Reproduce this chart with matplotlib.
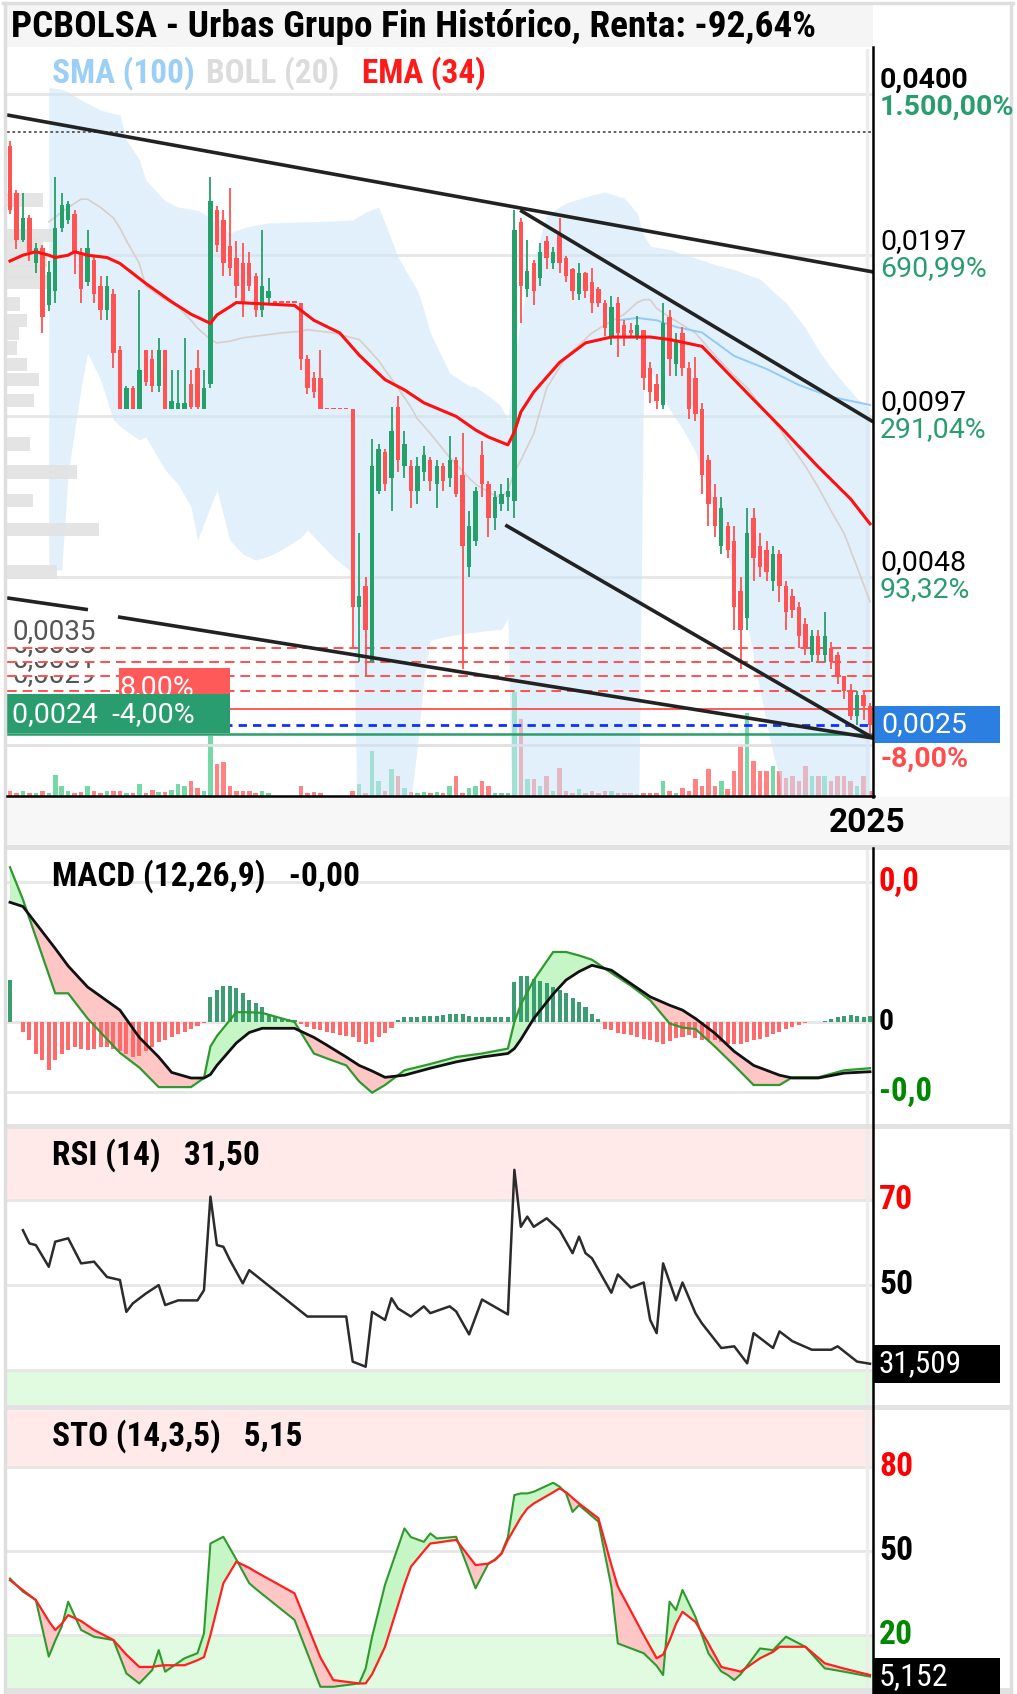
import numpy as np
import matplotlib
matplotlib.use("Agg")
import matplotlib.pyplot as plt
from matplotlib.patches import Rectangle
from matplotlib.lines import Line2D
from matplotlib.transforms import Bbox
from matplotlib import font_manager as fm

W, H, DPI = 1017, 1694, 100
UNIT = 1e-4  # precios en diezmilesimas

# ---------------- velas diarias (diezmilesimas) ----------------
opens = [318, 259, 211, 232, 190, 203, 158, 168, 222, 230,
         236, 200, 175, 193, 172, 155, 166, 130, 100, 110,
         100, 130, 125, 111, 130, 100, 100, 100, 112, 120,
         100, 112, 240, 230, 205, 195, 190, 190, 180, 155,
         163, 160, 160, 160, 160, 160, 125, 115, 115, 100,
         100, 100, 100, 100, 42, 46, 33, 70, 83, 74,
         101, 78, 78, 70, 76, 80, 72, 78, 74, 80,
         75, 50, 56, 82, 72, 62, 66, 68, 67, 228,
         170, 190, 178, 210, 190, 215, 195, 185, 166, 182,
         175, 170, 160, 138, 160, 145, 142, 138, 142, 120,
         112, 102, 150, 122, 140, 120, 115, 100, 80, 68,
         55, 60, 56, 45, 40, 62, 55, 54, 47, 53,
         46, 44, 42, 39, 34, 37, 34, 35, 34, 31,
         29, 26, 28.5, 27.2]
highs = [325, 262, 259, 235, 208, 206, 192, 278, 259, 250,
         240, 203, 220, 196, 180, 180, 170, 132, 111, 111,
         169, 130, 130, 137, 130, 119, 119, 137, 119, 130,
         119, 278, 245, 240, 265, 210, 208, 200, 182, 220,
         178, 160, 160, 160, 160, 160, 127, 118, 130, 100,
         100, 100, 100, 100, 58, 48, 88, 86, 84, 101,
         106, 91, 80, 81, 85, 81, 80, 79, 89, 81,
         90, 64, 71, 87, 73, 70, 72, 74, 240, 232,
         211, 193, 208, 214, 204, 232, 196, 186, 190, 183,
         186, 171, 162, 165, 164, 148, 146, 151, 142, 123,
         117, 160, 155, 140, 144, 123, 126, 103, 82, 72,
         68, 61, 60, 48, 65, 65, 58, 56, 55, 54,
         47, 45.5, 43, 40, 38, 38, 41, 36, 34.5, 31,
         30, 29, 29, 27.5]
lows = [236, 202, 209, 192, 182, 140, 154, 160, 218, 226,
        181, 160, 172, 160, 148, 148, 120, 100, 100, 100,
        100, 111, 108, 108, 100, 100, 100, 100, 100, 100,
        100, 110, 200, 180, 180, 163, 150, 168, 150, 150,
        160, 160, 160, 160, 160, 119, 107, 105, 100, 100,
        100, 100, 100, 35, 33, 31, 33, 69, 70, 64,
        76, 74, 65, 66, 73, 70, 65, 70, 71, 68,
        32, 48, 55, 68, 57, 59, 64, 64, 62, 146,
        164, 158, 172, 185, 185, 182, 175, 162, 162, 163,
        153, 157, 138, 133, 126, 132, 138, 136, 109, 103,
        100, 100, 116, 116, 116, 96, 95, 69, 60, 57,
        53, 52, 38, 32, 38, 47, 48, 47, 45, 43,
        38, 40, 35, 34, 33, 33, 33, 32, 30, 28,
        25.6, 25, 25.5, 23.5]
closes = [240, 211, 232, 200, 203, 150, 183, 222, 246, 247,
          200, 170, 203, 166, 155, 172, 128, 100, 110, 100,
          119, 113, 111, 130, 100, 104, 103, 103, 101, 101,
          110, 250, 206, 190, 186, 172, 160, 172, 155, 172,
          168, 160, 160, 160, 160, 125, 110, 108, 100, 100,
          100, 100, 100, 42, 44, 38, 78, 84, 72, 91,
          80, 86, 70, 78, 82, 73, 78, 73, 80, 69,
          55, 60, 70, 72, 62, 68, 69, 70, 220, 172,
          184, 168, 200, 195, 200, 190, 180, 168, 182, 168,
          160, 160, 143, 157, 140, 138, 140, 145, 115, 108,
          104, 146, 125, 135, 120, 100, 98, 75, 66, 60,
          65, 54, 42, 38, 58, 52, 50, 49, 53, 46,
          41, 41.5, 37, 35, 37, 34, 37, 33, 31, 29,
          26, 28.5, 27.2, 25]
volume = [5, 3, 5, 3, 3, 5, 3, 21, 10, 5,
          3, 4, 10, 5, 3, 5, 5, 5, 3, 3,
          12, 3, 6, 4, 4, 6, 12, 10, 15, 8,
          5, 60, 32, 34, 10, 5, 5, 5, 3, 5,
          3, 0, 0, 0, 0, 10, 3, 4, 3, 0,
          0, 0, 0, 5, 12, 3, 45, 15, 5, 27,
          20, 8, 4, 3, 4, 3, 4, 3, 10, 20,
          3, 8, 10, 15, 10, 3, 3, 3, 104, 77,
          17, 17, 10, 20, 5, 28, 5, 3, 7, 3,
          5, 3, 5, 5, 3, 3, 3, 2, 3, 3,
          3, 15, 5, 3, 8, 5, 17, 10, 27, 10,
          15, 7, 25, 50, 83, 35, 25, 25, 30, 25,
          18, 20, 15, 30, 20, 20, 20, 15, 20, 20,
          15, 10, 20, 5]

# ---------------- medias y bandas ----------------
ema_idx = [0, 2, 4, 6, 7, 9, 10, 12, 15, 17, 21, 25, 28, 31, 32, 34, 35, 44, 47, 51,
           54, 58, 61, 64, 69, 72, 74, 77, 78, 79, 81, 85, 89, 93, 99, 102, 107, 114, 119, 125,
           130, 133]
ema_val = [192, 197, 200, 197, 195, 197, 200, 197, 195, 190, 174, 160.5, 152, 146, 151.5, 157, 160, 158, 148, 140,
           127, 114, 109, 103, 97, 91.4, 88.6, 85.6, 90.6, 98.9, 108, 123, 134, 137.5, 137.5, 136, 132, 107.5, 93, 77.7,
           67.5, 60.5]
sma_idx = [94, 97, 100, 103, 105, 107, 112, 117, 122, 127, 133]
sma_val = [148, 149.5, 148, 143.7, 142, 140.3, 126.5, 119.5, 111.4, 105.7, 102]
bb_idx = [6, 8, 9, 11, 12, 14, 16, 17, 18, 20, 21, 24, 26, 28, 29, 31, 32, 34, 36, 38,
          40, 42, 45, 46, 50, 53, 54, 55, 57, 58, 60, 62, 63, 64, 65, 68, 71, 72, 75, 76,
          77, 78, 79, 81, 83, 86, 90, 92, 95, 97, 98, 99, 100, 102, 104, 106, 109, 112, 114, 116,
          118, 119, 120, 123, 125, 127, 129, 131, 133]
bb_up = [412, 408, 403.5, 389.6, 384, 372.8, 367, 364.8, 326.8, 300,
         274, 250, 243.5, 241, 240, 232, 226, 217.2, 222, 225,
         227, 227.5, 228, 228, 229, 230, 234, 238, 243.5, 227,
         195.4, 177, 169, 155, 140, 117.4, 111, 110.4, 104, 101,
         95.6, 125, 150, 193, 235, 247.8, 256.6, 260, 253, 237,
         215, 205, 204, 202, 198, 194.6, 189, 185, 181, 177.4,
         168, 164, 160, 143, 130, 120, 112, 105, 100]
bb_mid = [228, 238, 243, 252, 252, 243, 232, 222, 210, 190,
          172, 162, 157, 148, 143, 136, 134, 135, 137, 138,
          139, 140, 141, 142, 140, 137, 136, 132, 124, 119,
          110, 101, 96, 93, 90, 81, 74, 72, 68.5, 68,
          70, 76, 80, 90, 110, 126, 140, 145, 152, 160,
          162, 162, 156, 150, 145, 140, 127, 116, 110, 102,
          95, 92, 88, 78, 71, 64, 58, 50, 43]
bb_lo = [49.4, 49.4, 75.7, 110, 128, 114, 95.6, 93, 91, 87.5,
         88.6, 76.7, 72, 65.2, 56.3, 65.2, 70.2, 56.3, 53, 51.6,
         52.5, 54, 57, 58.9, 52.3, 48.8, 10, 10, 10, 10,
         12, 18, 22.7, 30.5, 36.3, 37, 37.5, 37.6, 38, 38,
         40, 10, 10, 10, 10, 10, 10, 10, 10, 10,
         118, 120, 112, 100, 92, 83, 64, 47, 39, 29,
         22, 20, 10, 10, 10, 10, 10, 10, 10]

# perfil de volumen por precio (izquierda)
prof_price = [251, 215, 205, 193, 183, 175, 159, 148, 140, 131, 122, 114, 104, 86, 76, 67, 59, 49]
prof_vol = [36, 46, 36, 40, 36, 40, 13, 20, 12, 10, 20, 32, 27, 23, 70, 26, 92, 50]

# lineas de tendencia (indice, precio)
trend_lines = [((-0.46, 364.8), (133.5, 183)),
               ((78.9, 240), (133.5, 94.7)),
               ((76.6, 60.2), (133.5, 23.6)),
               ((-0.46, 43.7), (12.06, 41.5)),
               ((16.7, 40.2), (133.5, 23.6))]
dotted_level = 338
alert_levels = [35, 33, 31, 29]
alert_labels = ['0,0035', '0,0033', '0,0031', '0,0029']
stop_level = 26.8
green_level = 24
vol_top_level = 22.9

price_ticks = [400, 197, 97, 48]
price_labels = ['0,0400', '0,0197', '0,0097', '0,0048']
pct_labels = ['1.500,00%', '690,99%', '291,04%', '93,32%']

# ---------------- MACD ----------------
macd_idx = [0, 2, 7, 9, 12, 17, 20, 23, 25, 28, 30, 31, 32, 35, 37, 39, 44, 47, 49, 52,
            54, 56, 58, 61, 65, 69, 73, 77, 78, 79, 81, 84, 86, 88, 90, 93, 96, 99, 102, 104,
            106, 109, 112, 115, 117, 119, 121, 125, 129, 133]
macd_val = [2.21, 1.75, 0.41, 0.41, 0.05, -0.44, -0.65, -0.93, -0.93, -0.93,
            -0.80, -0.35, -0.20, 0.14, 0.14, 0.13, 0.0, -0.45, -0.52, -0.62,
            -0.85, -1.01, -0.90, -0.69, -0.60, -0.50, -0.45, -0.38, 0.0, 0.25,
            0.60, 1.00, 1.00, 0.95, 0.89, 0.70, 0.52, 0.31, -0.02, -0.08,
            -0.10, -0.35, -0.62, -0.90, -0.90, -0.90, -0.79, -0.79, -0.69, -0.66]
signal_val = [1.71, 1.65, 1.05, 0.80, 0.50, 0.17, -0.22, -0.50, -0.72, -0.80,
              -0.80, -0.75, -0.62, -0.30, -0.15, -0.09, -0.09, -0.22, -0.33, -0.50,
              -0.62, -0.70, -0.79, -0.76, -0.66, -0.57, -0.50, -0.45, -0.38, -0.25,
              0.05, 0.40, 0.60, 0.72, 0.81, 0.74, 0.55, 0.36, 0.24, 0.17,
              0.05, -0.16, -0.42, -0.62, -0.69, -0.76, -0.80, -0.80, -0.73, -0.71]
hist = [0.6, 0.0, -0.14, -0.26, -0.45, -0.54, -0.69, -0.54, -0.45, -0.40,
        -0.35, -0.38, -0.40, -0.38, -0.36, -0.35, -0.38, -0.42, -0.45, -0.50,
        -0.48, -0.42, -0.35, -0.29, -0.25, -0.21, -0.17, -0.14, -0.10, -0.05,
        -0.02, 0.36, 0.46, 0.52, 0.52, 0.48, 0.41, 0.31, 0.27, 0.21,
        0.12, 0.07, 0.06, 0.05, 0.03, -0.03, -0.07, -0.10, -0.12, -0.14,
        -0.16, -0.18, -0.20, -0.22, -0.28, -0.31, -0.28, -0.22, -0.15, -0.08,
        0.03, 0.07, 0.07, 0.07, 0.08, 0.08, 0.09, 0.10, 0.12, 0.12,
        0.11, 0.08, 0.07, 0.07, 0.07, 0.07, 0.07, 0.07, 0.57, 0.65,
        0.65, 0.62, 0.58, 0.55, 0.50, 0.46, 0.41, 0.35, 0.29, 0.21,
        0.12, 0.05, -0.10, -0.12, -0.15, -0.17, -0.19, -0.21, -0.24, -0.26,
        -0.29, -0.31, -0.27, -0.23, -0.21, -0.19, -0.23, -0.26, -0.26, -0.26,
        -0.29, -0.31, -0.31, -0.31, -0.28, -0.26, -0.24, -0.21, -0.17, -0.14,
        -0.10, -0.07, -0.04, -0.02, 0.0, 0.0, 0.01, 0.05, 0.07, 0.08,
        0.10, 0.08, 0.07, 0.09]

# ---------------- RSI ----------------
rsi_idx = [2, 3, 4, 6, 7, 9, 11, 13, 15, 17, 18, 19, 21, 23, 24, 26, 29, 30, 31, 32,
           33, 34, 36, 37, 46, 52, 53, 55, 56, 58, 59, 60, 62, 64, 65, 68, 69, 71, 73, 77,
           78, 79, 80, 81, 83, 85, 87, 88, 89, 90, 93, 94, 96, 98, 99, 100, 101, 103, 104, 106,
           107, 110, 112, 114, 115, 118, 119, 121, 124, 127, 128, 131, 133]
rsi_val = [62.9, 59.8, 59.4, 54.3, 60.2, 61.0, 55.1, 55.5, 51.9, 51.2,
           43.7, 45.7, 48.0, 50.0, 45.3, 46.4, 46.4, 48.8, 70.8, 59.4,
           59.0, 55.9, 50.4, 53.5, 42.6, 42.6, 32.0, 30.8, 43.7, 41.8,
           46.9, 44.5, 42.6, 45.0, 43.4, 45.0, 43.8, 38.4, 46.6, 43.1,
           77.1, 63.7, 66.1, 63.7, 65.7, 62.9, 57.5, 61.4, 57.5, 56.3,
           48.2, 52.5, 49.4, 50.6, 41.8, 38.7, 55.1, 46.4, 50.6, 43.4,
           41.0, 35.2, 35.6, 31.6, 38.7, 35.2, 39.1, 36.8, 34.8, 34.8,
           35.6, 32.0, 31.5]

# ---------------- Estocastico ----------------
sto_idx = [0, 2, 4, 6, 7, 8, 9, 11, 13, 16, 18, 20, 22, 23, 24, 27, 29, 30, 31, 33,
           35, 37, 38, 44, 48, 50, 54, 55, 56, 58, 61, 62, 64, 65, 66, 69, 72, 74, 75, 76,
           77, 78, 79, 80, 81, 84, 85, 86, 87, 88, 91, 93, 94, 98, 100, 101, 102, 103, 104, 106,
           108, 110, 111, 112, 113, 116, 118, 119, 120, 123, 126, 129, 133]
sto_k = [40.2, 35.5, 32.5, 12.3, 18, 23, 31.9, 21.8, 19.4, 18.2,
         6.3, 2.7, 7.5, 14.6, 6.9, 11.7, 13.5, 20.6, 52.7, 55.1,
         47, 38.5, 36.5, 25.4, 1.5, 1.5, 2.7, 8, 19.4, 38,
         58.1, 55, 53.3, 56.3, 54.5, 55.1, 36.7, 45.6, 47, 49.2,
         55, 70, 70.6, 70.6, 71.2, 74.4, 73, 70.6, 64, 66.4,
         60.5, 37.3, 17, 13.5, 9, 5.7, 31.9, 28.9, 36.1, 26.5,
         13.5, 7, 5.7, 3.9, 6, 15.2, 14.6, 17, 19.4, 15.8,
         8.1, 6.9, 5.15]
sto_d = [39.6, 36, 32.5, 25, 21.8, 24, 27.1, 25, 21.8, 18.2,
         13, 8.6, 8.6, 9, 9.2, 9.2, 11, 12.1, 20, 38.5,
         46.2, 44, 42.6, 34.9, 12, 3.9, 2.7, 2.7, 6, 15.8,
         38, 44.4, 50, 52.7, 53, 54, 45.0, 45.5, 46.8, 49,
         54, 58, 62, 65.2, 67, 71, 72.4, 71, 69, 67,
         61.7, 45, 37.3, 20, 11.7, 13, 18, 24, 28.3, 24.7,
         17, 8.6, 8, 7.5, 6.9, 11.7, 14, 15.8, 15.8, 15.8,
         9.9, 8, 5.7]

# ---------------- estilo ----------------
GREEN = '#25a06b'
RED = '#ff5252'
PCT_GREEN = '#2a9d6f'
GRID = '#e6e6e6'
names = {f.name for f in fm.fontManager.ttflist}
NARROW = next((n for n in ['Roboto Condensed', 'Liberation Sans Narrow'] if n in names), 'Roboto')
REG = 'Roboto'

fig = plt.figure(figsize=(W / DPI, H / DPI), dpi=DPI)
fig.patch.set_facecolor('white')
renderer = fig.canvas.get_renderer()


def box(x0, y0, x1, y1):
    return [x0 / W, 1 - y1 / H, (x1 - x0) / W, (y1 - y0) / H]


def rect(x0, y0, x1, y1, color, z=1.0):
    fig.add_artist(Rectangle((x0 / W, 1 - y1 / H), (x1 - x0) / W, (y1 - y0) / H,
                             transform=fig.transFigure, facecolor=color, edgecolor='none', zorder=z))


def hline(x0, x1, y, color, lw, z=2):
    fig.add_artist(Line2D([x0 / W, x1 / W], [1 - y / H, 1 - y / H], transform=fig.transFigure,
                          color=color, lw=lw, zorder=z))


def vline(x, y0, y1, color, lw, z=2):
    fig.add_artist(Line2D([x / W, x / W], [1 - y0 / H, 1 - y1 / H], transform=fig.transFigure,
                          color=color, lw=lw, zorder=z))


def txt(x, y, s, size=14, color='black', weight='normal', family=None, fit=None, z=5, ha='left'):
    t = fig.text(x / W, 1 - y / H, s, fontsize=size, color=color, fontweight=weight,
                 family=family or REG, ha=ha, va='center', zorder=z)
    if fit:
        w = t.get_window_extent(renderer).width
        t.set_fontsize(size * fit / w)
    return t


def y_img(a, v):
    return H - a.transData.transform((0, v))[1]


N = len(closes)
x = np.arange(N)
XL = (-0.46, N - 1 + 0.46)

# marco, barra de titulo, bandas
rect(7, 5, 873, 47, '#f5f5f5', z=0.2)
rect(7, 797, 1011, 845, '#f7f7f7', z=0.2)
rect(7, 845, 1011, 850, '#e2e2e2', z=0.3)
rect(7, 1124, 1011, 1129, '#e2e2e2', z=0.3)
rect(7, 1405, 1011, 1410, '#e2e2e2', z=0.3)
rect(7, 1688, 1011, 1694, '#e2e2e2', z=0.3)
vline(5, 3, 1694, '#dedede', 2.5)
hline(3, 1013, 3.5, '#dedede', 2.5)
vline(1011, 3, 1694, '#dedede', 2.5)

# ---------------- panel principal ----------------
ax_vol = fig.add_axes(box(7, 49, 873, 796))
ax = fig.add_axes(box(7, 49, 873, 796))
ax.patch.set_alpha(0)
for a in (ax_vol, ax):
    a.set_xlim(*XL)
    a.axis('off')
ax_vol.set_ylim(0, 747)

o, h, l, c = [np.array(v) * UNIT for v in (opens, highs, lows, closes)]
up = c > o
ax.set_yscale('log')
ax.set_ylim(0.001830, 0.048744)

for p in price_ticks:
    ax.axhline(p * UNIT, color=GRID, lw=2, zorder=0.5)
ax.axhline(vol_top_level * UNIT, color='#e0e0e0', lw=2, zorder=0.5)
ax.axvline(N - 1.4, color='#ececec', lw=2.5, zorder=0.6)

ax_vol.bar(x, volume, width=0.7, color=np.where(up, '#74d9a6', '#ff8383'), linewidth=0)

ax.fill_between(bb_idx, np.array(bb_lo) * UNIT, np.array(bb_up) * UNIT,
                color='#cbe5f8', alpha=0.55, lw=0, zorder=1)
ax.plot(bb_idx, np.array(bb_mid) * UNIT, color='#d8cfca', lw=1.2, zorder=2)

for p, v in zip(prof_price, prof_vol):
    ax.add_patch(Rectangle((0, p * UNIT / 1.03), v / 866, p * UNIT * (1.03 - 1 / 1.03),
                           transform=ax.get_yaxis_transform(), facecolor='#e2e2e2',
                           alpha=0.9, edgecolor='none', zorder=1.5))

ax.plot(sma_idx, np.array(sma_val) * UNIT, color='#90caf9', lw=1.4, zorder=3)

col = np.where(up, GREEN, RED)
ax.vlines(x, l, h, colors=col, lw=1.3, zorder=4)
bot = np.minimum(o, c)
top = np.maximum(np.maximum(o, c), bot * 1.006)
ax.bar(x, top - bot, bottom=bot, width=0.68, color=col, linewidth=0, zorder=5)

ax.plot(ema_idx, np.array(ema_val) * UNIT, color='#ff1010', lw=2.2, zorder=6)

for (x0, p0), (x1, p1) in trend_lines:
    ax.plot([x0, x1], [p0 * UNIT, p1 * UNIT], color='#222222', lw=2.6, zorder=7,
            solid_capstyle='butt')

ax.axhline(dotted_level * UNIT, color='#555555', lw=1.3, ls=(0, (1.5, 1.5)), zorder=3)
prev_y = None
for p, lab in zip(alert_levels, alert_labels):
    ax.axhline(p * UNIT, color='#ff5050', lw=1.4, ls=(0, (5, 3)), zorder=3)
    t = ax.annotate(lab, xy=(0, p * UNIT), xycoords=('axes fraction', 'data'), xytext=(5, 17),
                    textcoords='offset pixels', va='center', fontsize=20, color='#555555',
                    family=REG, zorder=2)
    yl = y_img(ax, p * UNIT)
    if prev_y is not None:
        # las etiquetas inferiores quedan tapadas por la de arriba
        t.set_clip_box(Bbox.from_extents(0, H - yl, 200, H - prev_y))
        t.set_clip_on(True)
    prev_y = yl
ax.axhline(stop_level * UNIT, color='#ff4d4d', lw=1.3, zorder=3)
ax.axhline(closes[-1] * UNIT, color='#1030ff', lw=2, ls=(0, (3, 2.2)), zorder=3)
ax.axhline(green_level * UNIT, color=PCT_GREEN, lw=1.8, zorder=3)

# cajas de la izquierda
yg = y_img(ax, green_level * UNIT)
rect(119, yg - 66, 230, yg - 40, '#ff5a5a', z=1.1)
txt(119, yg - 47, '8,00%', 20.5, 'white', z=1.2)
rect(7, yg - 40, 230, yg - 1, '#2a9d6f', z=1.3)
txt(12, yg - 20, '0,0024  -4,00%', 20.5, 'white', z=1.4)

# bordes negros
vline(873, 47, 797, 'black', 1.8, z=3)
hline(7, 874, 796, 'black', 1.8, z=3)
vline(873, 848, 1694, 'black', 1.8, z=3)

# etiquetas de precio a la derecha
for i, (p, lab, pct) in enumerate(zip(price_ticks, price_labels, pct_labels)):
    yc = y_img(ax, p * UNIT)
    wgt = 'bold' if i == 0 else 'normal'
    txt(880, yc - 14, lab, 20.5, 'black', wgt)
    txt(880, yc + 13, pct, 20.5, PCT_GREEN, wgt)
yc = y_img(ax, closes[-1] * UNIT)
rect(875, yc - 19, 1000, yc + 18, '#2a7fe0', z=1.5)
txt(881, yc, f"{closes[-1] * UNIT:.4f}".replace('.', ','), 20.5, 'white')
txt(881, yc + 34, '-8,00%', 20.5, '#ff4d4d', 'bold')

# titulo y leyenda
txt(11, 27, 'PCBOLSA - Urbas Grupo Fin Histórico, Renta: -92,64%', 22, 'black', 'bold', NARROW, fit=805)
txt(52, 73, 'SMA (100)', 20, '#9ccff5', 'bold', NARROW, fit=143)
txt(206, 73, 'BOLL (20)', 20, '#dcdcdc', 'bold', NARROW, fit=134)
txt(362, 73, 'EMA (34)', 20, '#ff1a1a', 'bold', NARROW, fit=124)
txt(867, 823, '2025', 24, 'black', 'bold', REG, ha='center')

# ---------------- MACD ----------------
axm = fig.add_axes(box(7, 850, 873, 1124))
axm.set_xlim(*XL)
axm.set_ylim(-1.457, 2.457)
axm.axis('off')
for g in (2.0, 0.0, -1.0):
    axm.axhline(g, color=GRID, lw=2, zorder=0.5)
axm.axvline(N - 1.4, color='#ececec', lw=2.5, zorder=0.6)
mi = np.array(macd_idx)
mv = np.array(macd_val)
sv = np.array(signal_val)
axm.fill_between(mi, mv, sv, where=mv >= sv, interpolate=True, color='#c6f5c6', lw=0, zorder=1)
axm.fill_between(mi, mv, sv, where=mv < sv, interpolate=True, color='#ffc6c6', lw=0, zorder=1)
hv = np.array(hist)
axm.bar(x, hv, width=0.62, color=np.where(hv >= 0, '#3a9e72', '#ff6b6b'), linewidth=0, zorder=2)
axm.plot(mi, mv, color='#2e9a2e', lw=1.6, zorder=3)
axm.plot(mi, sv, color='#111111', lw=2.0, zorder=4)
txt(52, 876, 'MACD (12,26,9)   -0,00', 20, 'black', 'bold', NARROW, fit=307)
txt(879, y_img(axm, 2.0), '0,0', 20, '#ff0000', 'bold', NARROW, fit=41)
txt(879, y_img(axm, 0.0), '0', 20, 'black', 'bold', NARROW, fit=15)
txt(879, y_img(axm, -1.0), '-0,0', 20, '#008800', 'bold', NARROW, fit=53)

# ---------------- RSI ----------------
axr = fig.add_axes(box(7, 1129, 873, 1405))
axr.set_xlim(*XL)
axr.set_ylim(21.8, 86.7)
axr.axis('off')
axr.axhspan(70, 100, color='#ffe9e9', lw=0, zorder=0.2)
axr.axhspan(0, 30, color='#e1fbe1', lw=0, zorder=0.2)
for g in (70, 50, 30):
    axr.axhline(g, color=GRID, lw=2, zorder=0.5)
axr.axvline(N - 1.4, color='#ececec', lw=2.5, zorder=0.6)
axr.plot(rsi_idx, rsi_val, color='#2b2b2b', lw=1.8, zorder=3)
txt(52, 1155, 'RSI (14)   31,50', 20, 'black', 'bold', NARROW, fit=207)
txt(879, y_img(axr, 70), '70', 20, '#ff0000', 'bold', NARROW, fit=34)
txt(879, y_img(axr, 50), '50', 20, 'black', 'bold', NARROW, fit=34)
yr = y_img(axr, rsi_val[-1] + 0.009)
rect(873, yr - 19, 1000, yr + 19, 'black', z=1.5)
txt(879, yr, '31,509', 20, 'white', 'normal', NARROW, fit=83)

# ---------------- STO ----------------
axs = fig.add_axes(box(7, 1410, 873, 1688))
axs.set_xlim(*XL)
axs.set_ylim(1.07, 100.4)
axs.axis('off')
axs.axhspan(80, 101, color='#ffe9e9', lw=0, zorder=0.2)
axs.axhspan(0, 20, color='#e1fbe1', lw=0, zorder=0.2)
for g in (80, 50, 20):
    axs.axhline(g, color=GRID, lw=2, zorder=0.5)
axs.axvline(N - 1.4, color='#ececec', lw=2.5, zorder=0.6)
si = np.array(sto_idx)
kv = np.array(sto_k)
dv = np.array(sto_d)
axs.fill_between(si, kv, dv, where=kv >= dv, interpolate=True, color='#c6f5c6', lw=0, zorder=1)
axs.fill_between(si, kv, dv, where=kv < dv, interpolate=True, color='#ffc6c6', lw=0, zorder=1)
axs.plot(si, kv, color='#2e9a2e', lw=1.5, zorder=3)
axs.plot(si, dv, color='#ff2020', lw=1.6, zorder=4)
txt(52, 1436, 'STO (14,3,5)   5,15', 20, 'black', 'bold', NARROW, fit=251)
txt(879, y_img(axs, 80), '80', 20, '#ff0000', 'bold', NARROW, fit=34)
txt(879, y_img(axs, 50), '50', 20, 'black', 'bold', NARROW, fit=34)
txt(879, y_img(axs, 20), '20', 20, '#008800', 'bold', NARROW, fit=34)
ys = y_img(axs, 5.152)
rect(873, ys - 19, 1000, ys + 19, 'black', z=1.5)
txt(879, ys, '5,152', 20, 'white', 'normal', NARROW, fit=69)

fig.savefig('out.png', dpi=DPI, facecolor='white')
